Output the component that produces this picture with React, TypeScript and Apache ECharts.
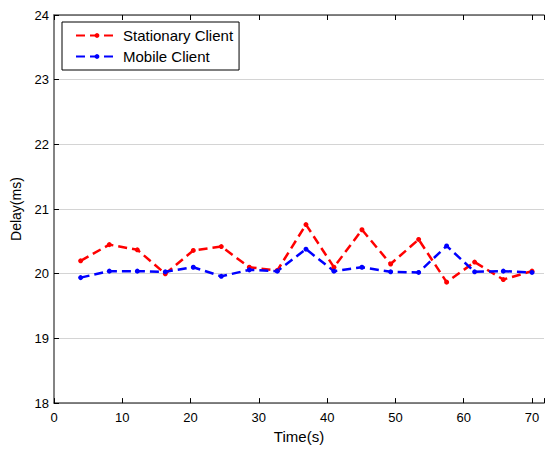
import React, { useEffect, useRef } from "react";
import * as echarts from "echarts";

const timeValues = [3.9, 8.1, 12.2, 16.3, 20.4, 24.5, 28.6, 32.7, 36.9, 41.0, 45.1, 49.3, 53.4, 57.5, 61.6, 65.8, 70.0];
const stationaryDelay = [20.2, 20.45, 20.37, 20.0, 20.36, 20.42, 20.1, 20.05, 20.76, 20.1, 20.68, 20.15, 20.53, 19.87, 20.18, 19.91, 20.04];
const mobileDelay = [19.94, 20.04, 20.04, 20.03, 20.1, 19.96, 20.06, 20.04, 20.38, 20.04, 20.1, 20.03, 20.02, 20.43, 20.03, 20.04, 20.02];
const seriesNames = ["Stationary Client", "Mobile Client"];
const xRange = [0, 71.76];
const yTicks = [18, 19, 20, 21, 22, 23, 24];

const FONT = "Liberation Sans";

export default function App() {
  const ref = useRef<HTMLDivElement>(null);
  useEffect(() => {
    if (!ref.current) return;
    const chart = echarts.init(ref.current, undefined, { renderer: "svg" });
    const axisLineStyle = { color: "#5a5a5a", width: 1.5 };
    const mk = (vals: number[]) => timeValues.map((t, i) => [t, vals[i]]);
    const xFmt = (v: number) => (Math.abs(v % 10) < 1e-6 ? String(v) : "");
    chart.setOption({
      animation: false,
      backgroundColor: "#ffffff",
      grid: { left: 54, top: 15, bottom: 45, right: 0 },
      legend: {
        orient: "vertical",
        left: 62,
        top: 22,
        borderColor: "#000000",
        borderWidth: 1,
        padding: [6, 6, 6, 13],
        itemWidth: 42,
        itemHeight: 6,
        itemGap: 6,
        textStyle: { fontFamily: FONT, fontSize: 15, color: "#000" },
        data: seriesNames,
      },
      xAxis: [
        {
          type: "value",
          min: xRange[0],
          max: xRange[1],
          interval: 10,
          name: "Time(s)",
          nameLocation: "middle",
          nameGap: 21,
          nameTextStyle: { fontFamily: FONT, fontSize: 15, color: "#000" },
          axisLine: { show: true, lineStyle: axisLineStyle },
          axisTick: { show: true, inside: true, length: 5, lineStyle: { color: "#000" } },
          axisLabel: { fontFamily: FONT, fontSize: 13, color: "#000", margin: 8, formatter: xFmt },
          splitLine: { show: false },
        },
        {
          type: "value",
          position: "top",
          min: xRange[0],
          max: xRange[1],
          interval: 10,
          axisLine: { show: true, onZero: false, lineStyle: axisLineStyle },
          axisTick: { show: true, inside: true, length: 5, lineStyle: { color: "#000" } },
          axisLabel: { show: false },
          splitLine: { show: false },
        },
      ],
      yAxis: {
        type: "value",
        min: yTicks[0],
        max: yTicks[yTicks.length - 1],
        interval: 1,
        name: "Delay(ms)",
        nameLocation: "middle",
        nameGap: 31,
        nameTextStyle: { fontFamily: FONT, fontSize: 14, color: "#000" },
        axisLine: { show: true, lineStyle: axisLineStyle },
        axisTick: { show: true, inside: true, length: 5, lineStyle: { color: "#000" } },
        axisLabel: { fontFamily: FONT, fontSize: 13, color: "#000", margin: 5 },
        splitLine: { show: true, lineStyle: { color: "#d4d4d4", width: 1 } },
      },
      series: [
        {
          name: seriesNames[0],
          type: "line",
          xAxisIndex: 0,
          data: mk(stationaryDelay),
          symbol: "circle",
          symbolSize: 5,
          itemStyle: { color: "#ff0000" },
          lineStyle: { color: "#ff0000", width: 2.5, type: [9, 5] },
        },
        {
          name: seriesNames[1],
          type: "line",
          xAxisIndex: 0,
          data: mk(mobileDelay),
          symbol: "circle",
          symbolSize: 5,
          itemStyle: { color: "#0000ff" },
          lineStyle: { color: "#0000ff", width: 2.5, type: [9, 5] },
        },
      ],
    });
    return () => chart.dispose();
  }, []);
  return <div ref={ref} style={{ position: "fixed", left: 0, top: 0, width: 547, height: 449, overflow: "hidden" }} />;
}
